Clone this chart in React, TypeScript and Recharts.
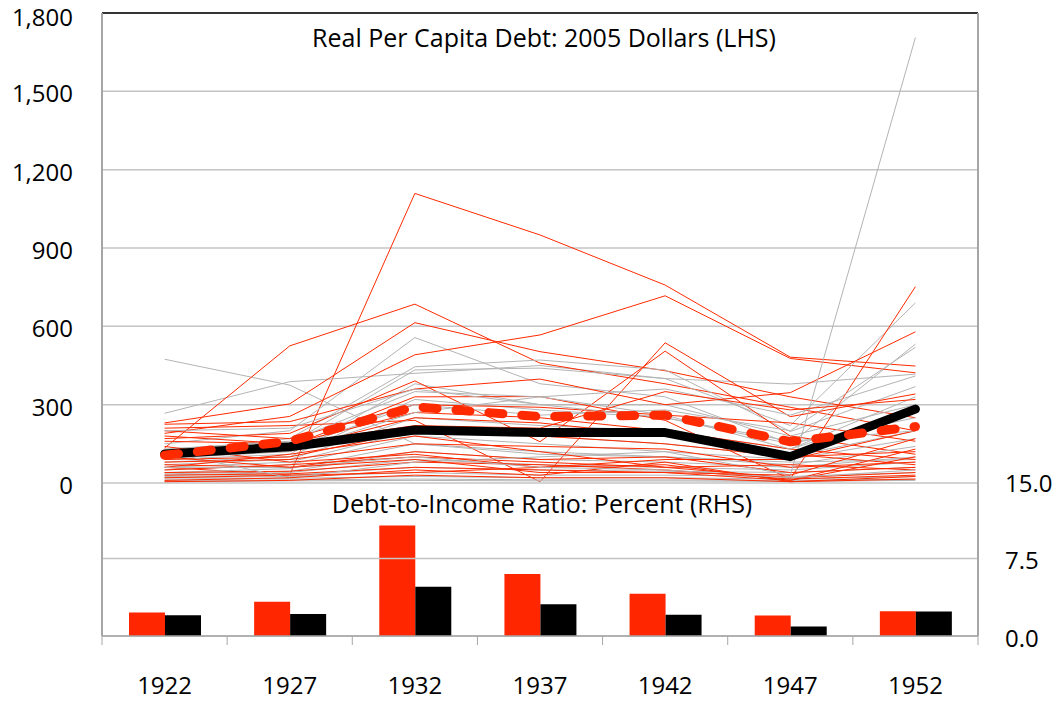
import { ComposedChart, Line, Bar, XAxis, YAxis, CartesianGrid, ReferenceLine } from 'recharts'

const years = ['1922', '1927', '1932', '1937', '1942', '1947', '1952']

// thin lines: real per capita debt by state, 2005 dollars
const redStates = [
  [60, 31, 1109, 950, 758, 482, 448],
  [134, 525, 685, 459, 380, 290, 200],
  [230, 303, 614, 503, 430, 330, 250],
  [190, 255, 491, 567, 717, 477, 422],
  [210, 220, 240, 5, 537, 254, 341],
  [170, 190, 391, 158, 505, 180, 110],
  [225, 235, 360, 398, 300, 346, 579],
  [120, 140, 330, 331, 240, 15, 752],
  [200, 170, 300, 290, 260, 230, 160],
  [160, 150, 270, 250, 200, 130, 90],
  [110, 130, 250, 230, 180, 110, 70],
  [90, 100, 200, 180, 150, 100, 120],
  [80, 90, 150, 140, 130, 60, 80],
  [70, 60, 120, 90, 100, 40, 60],
  [50, 70, 100, 80, 60, 20, 40],
  [40, 45, 80, 70, 50, 15, 30],
  [30, 35, 60, 50, 40, 10, 100],
  [20, 30, 40, 60, 70, 10, 130],
  [10, 20, 50, 30, 80, 5, 25],
  [5, 10, 30, 20, 20, 5, 15],
  [140, 80, 110, 60, 90, 90, 200],
  [60, 110, 180, 120, 60, 70, 50],
  [100, 60, 90, 40, 40, 30, 170],
  [180, 150, 220, 210, 350, 280, 320],
]

const grayStates = [
  [474, 375, 150, 120, 100, 80, 90],
  [267, 388, 420, 450, 400, 379, 417],
  [150, 200, 557, 380, 330, 150, 532],
  [120, 170, 445, 471, 433, 197, 369],
  [100, 150, 433, 440, 400, 220, 690],
  [90, 110, 380, 300, 300, 180, 300],
  [80, 100, 320, 280, 250, 150, 250],
  [70, 90, 250, 220, 200, 130, 280],
  [60, 80, 200, 180, 150, 100, 200],
  [50, 70, 180, 150, 120, 90, 170],
  [40, 55, 150, 110, 100, 70, 140],
  [35, 45, 120, 90, 80, 60, 100],
  [30, 40, 90, 70, 60, 50, 80],
  [25, 30, 60, 50, 45, 40, 60],
  [20, 25, 40, 30, 30, 25, 40],
  [15, 18, 25, 20, 20, 15, 25],
  [10, 12, 15, 12, 12, 10, 15],
  [5, 8, 10, 8, 8, 6, 10],
  [120, 20, 80, 100, 120, 30, 1706],
  [110, 130, 300, 260, 280, 200, 520],
  [130, 160, 350, 330, 360, 260, 410],
  [95, 120, 270, 330, 260, 130, 330],
  [60, 60, 100, 60, 50, 20, 50],
  [200, 210, 360, 300, 250, 160, 200],
]

// thick averages
const blackAverage = [111, 139, 203, 193, 193, 101, 283]
const redAverage = [106, 160, 292, 254, 260, 158, 216]

// debt-to-income ratio, percent
const redRatio = [2.27, 3.31, 10.7, 6.0, 4.09, 1.98, 2.4]
const blackRatio = [2.0, 2.14, 4.77, 3.08, 2.05, 0.91, 2.37]

const debtTicks = [0, 300, 600, 900, 1200, 1500, 1800]
const ratioTicks = [0, 7.5, 15]

const RED = '#ff2a00'
const GRAY = '#b4b4b4'
const AXIS = '#a6a6a6'
const FONT = '"Open Sans", sans-serif'

const W = 1063
const H = 702
const PLOT_LEFT = 102
const PLOT_RIGHT = 978
const HALF_BAND = (PLOT_RIGHT - PLOT_LEFT) / years.length / 2

const data = years.map((year, i) => {
  const row: Record<string, string | number> = {
    year,
    blackAvg: blackAverage[i],
    redAvg: redAverage[i],
    redBar: redRatio[i],
    blackBar: blackRatio[i],
  }
  redStates.forEach((s, k) => { row[`r${k}`] = s[i] })
  grayStates.forEach((s, k) => { row[`g${k}`] = s[i] })
  return row
})

const YearTick = (props: any) => {
  const { x, y, payload, index } = props
  return (
    <g>
      <line x1={x - HALF_BAND} x2={x - HALF_BAND} y1={y} y2={y + 9} stroke={AXIS} strokeWidth={1} />
      {index === years.length - 1 && (
        <line x1={x + HALF_BAND} x2={x + HALF_BAND} y1={y} y2={y + 9} stroke={AXIS} strokeWidth={1} />
      )}
      <text x={x} y={y + 58} textAnchor="middle" fontSize={24} fontFamily={FONT} fill="#000">
        {payload.value}
      </text>
    </g>
  )
}

const DebtTick = (props: any) => {
  const { x, y, payload } = props
  // keep the top label inside the picture
  const base = Math.max(y + 11, 26)
  return (
    <text x={x - 29} y={base} textAnchor="end" fontSize={24} fontFamily={FONT} fill="#000">
      {payload.value.toLocaleString('en-US')}
    </text>
  )
}

const RatioTick = (props: any) => {
  const { x, y, payload } = props
  return (
    <text x={x + 27} y={y + 11} textAnchor="start" fontSize={24} fontFamily={FONT} fill="#000">
      {payload.value.toFixed(1)}
    </text>
  )
}

const titleStyle = {
  position: 'absolute' as const,
  width: PLOT_RIGHT - PLOT_LEFT,
  textAlign: 'center' as const,
  fontFamily: FONT,
  fontSize: 25,
  lineHeight: '34px',
  color: '#000',
  whiteSpace: 'nowrap' as const,
}

export default function App() {
  const thin: JSX.Element[] = []
  for (let k = 0; k < Math.max(redStates.length, grayStates.length); k++) {
    if (k < grayStates.length) {
      thin.push(
        <Line key={`g${k}`} yAxisId="left" dataKey={`g${k}`} stroke={GRAY} strokeWidth={1}
          dot={false} activeDot={false} isAnimationActive={false} />
      )
    }
    if (k < redStates.length) {
      thin.push(
        <Line key={`r${k}`} yAxisId="left" dataKey={`r${k}`} stroke={RED} strokeWidth={1}
          dot={false} activeDot={false} isAnimationActive={false} />
      )
    }
  }

  return (
    <div style={{ position: 'absolute', left: 0, top: 0, width: W, height: H, background: '#fff' }}>
      <ComposedChart width={W} height={H} data={data} margin={{ top: 13, right: 0, bottom: 0, left: 0 }}
        barSize={36} barGap={0}>
        <CartesianGrid yAxisId="left" vertical={false} stroke="#c4c4c4" strokeWidth={1.5} />
        <XAxis dataKey="year" height={66} tick={<YearTick />} tickLine={false} tickSize={0} tickMargin={0}
          axisLine={{ stroke: AXIS, strokeWidth: 1.5 }} interval={0} />
        <YAxis yAxisId="left" width={102} domain={[-585.96, 1800]} ticks={debtTicks} allowDataOverflow
          tick={<DebtTick />} tickLine={false} tickSize={0} tickMargin={0}
          axisLine={{ stroke: AXIS, strokeWidth: 2 }} />
        <YAxis yAxisId="right" orientation="right" width={85} domain={[0, 60.29]} ticks={ratioTicks}
          allowDataOverflow tick={<RatioTick />} tickLine={false} tickSize={0} tickMargin={0}
          axisLine={{ stroke: AXIS, strokeWidth: 2 }} />
        <ReferenceLine yAxisId="right" y={7.5} stroke="#c4c4c4" strokeWidth={1.5} />
        <Bar yAxisId="right" dataKey="redBar" fill="#ff2600" isAnimationActive={false} />
        <Bar yAxisId="right" dataKey="blackBar" fill="#000" isAnimationActive={false} />
        {thin}
        <Line yAxisId="left" dataKey="blackAvg" stroke="#000" strokeWidth={9} strokeLinejoin="round"
          strokeLinecap="round" dot={false} activeDot={false} isAnimationActive={false} />
        <Line yAxisId="left" dataKey="redAvg" stroke={RED} strokeWidth={9} strokeDasharray="14 19"
          strokeLinecap="round" strokeLinejoin="round" dot={false} activeDot={false} isAnimationActive={false} />
        <ReferenceLine yAxisId="left" y={1800} stroke="#000" strokeWidth={1.5} />
      </ComposedChart>
      <div style={{ ...titleStyle, left: PLOT_LEFT + 4, top: 20.3 }}>Real Per Capita Debt: 2005 Dollars (LHS)</div>
      <div style={{ ...titleStyle, left: PLOT_LEFT + 2, top: 486.3 }}>Debt-to-Income Ratio: Percent (RHS)</div>
    </div>
  )
}
